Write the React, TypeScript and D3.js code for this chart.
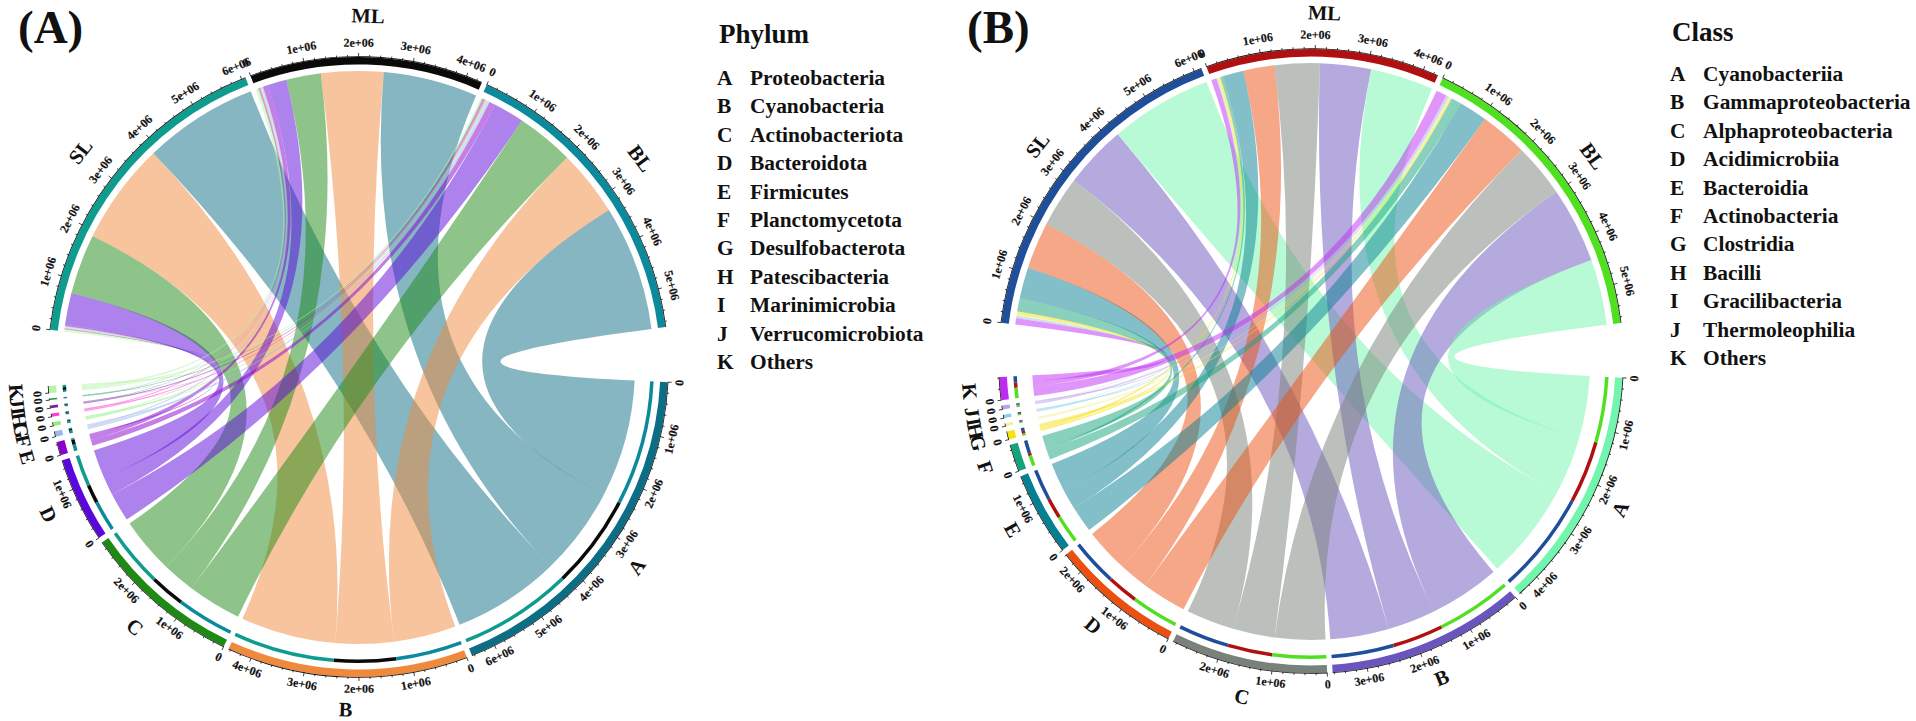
import React from 'react';
import * as d3 from 'd3';

// values are in units of 1e6 reads
const phylumLetters = ['A', 'B', 'C', 'D', 'E', 'F', 'G', 'H', 'I', 'J', 'K'];
const phylumNames = ['Proteobacteria', 'Cyanobacteria', 'Actinobacteriota', 'Bacteroidota', 'Firmicutes', 'Planctomycetota', 'Desulfobacterota', 'Patescibacteria', 'Marinimicrobia', 'Verrucomicrobiota', 'Others'];
const phylumSL = [2.21, 1.96, 1.16, 0.61, 0.03, 0.02, 0.02, 0.01, 0.01, 0.005, 0.04];
const phylumML = [1.82, 1.2, 0.67, 0.36, 0.1, 0.03, 0.02, 0.02, 0.015, 0.01, 0.055];
const phylumBL = [2.42, 1.28, 1.11, 0.59, 0.12, 0.05, 0.03, 0.03, 0.025, 0.015, 0.035];
const phylumColors = ['#0b6e85', '#ef8a3c', '#1e8a14', '#5b06dc', '#8a00d0', '#9db6ee', '#8cf07a', '#ff3acd', '#7a1fa8', '#1e9a55', '#b7f4a8'];
const phylumSourceColors = ['#0e9c8e', '#0a0a0a', '#0b8a9c'];

const classLetters = ['A', 'B', 'C', 'D', 'E', 'F', 'G', 'H', 'I', 'J', 'K'];
const classNames = ['Cyanobacteriia', 'Gammaproteobacteria', 'Alphaproteobacteria', 'Acidimicrobiia', 'Bacteroidia', 'Actinobacteria', 'Clostridia', 'Bacilli', 'Gracilibacteria', 'Thermoleophilia', 'Others'];
const classSL = [1.96, 1.2, 0.98, 0.9, 0.6, 0.25, 0.06, 0.02, 0.03, 0.02, 0.12];
const classML = [1.21, 0.98, 0.86, 0.6, 0.4, 0.05, 0.05, 0.01, 0.01, 0.01, 0.1];
const classBL = [1.26, 1.45, 1.03, 0.91, 0.54, 0.2, 0.04, 0.02, 0.02, 0.04, 0.2];
const classColors = ['#72f5ac', '#6a55be', '#7a817a', '#ec5010', '#057f92', '#14a37a', '#f5e210', '#f3f08a', '#85d0e8', '#b9a0ec', '#bf2bf3'];
const classSourceColors = ['#1f4e9a', '#b01010', '#4fe020'];

const sourceNames = ['SL', 'ML', 'BL'];
const rad = Math.PI / 180;
const serif = '"Liberation Serif", serif';

type PanelProps = {
  cx: number;
  cy: number;
  r: number;
  startDeg: number;
  endDeg: number;
  bigGap: number;
  labelSource: number;
  labelTarget: number;
  letters: string[];
  rows: number[][];
  colors: string[];
  sourceColors: string[];
};

type Sector = { name: string; size: number; color: string; a0: number; a1: number; isSource: boolean };

function facing(deg: number) {
  const d = ((deg % 360) + 360) % 360;
  return d > 90 && d < 270 ? deg + 180 : deg;
}

function Panel({ cx, cy, r, startDeg, endDeg, bigGap, labelSource, labelTarget, letters, rows, colors, sourceColors }: PanelProps) {
  const smallGap = 1;
  const colTotals = letters.map((_, j) => d3.sum(rows, row => row[j]));
  const rowTotals = rows.map(row => d3.sum(row));
  const total = d3.sum(colTotals) + d3.sum(rowTotals);
  const nGaps = letters.length + rows.length - 2;
  const perUnit = (endDeg - startDeg - bigGap - nGaps * smallGap) / total;

  const sectors: Sector[] = [];
  let pos = startDeg;
  letters.forEach((name, j) => {
    const a0 = pos;
    const a1 = a0 + colTotals[j] * perUnit;
    sectors.push({ name, size: colTotals[j], color: colors[j], a0, a1, isSource: false });
    pos = a1 + (j === letters.length - 1 ? bigGap : smallGap);
  });
  sourceNames.forEach((name, i) => {
    const a0 = pos;
    const a1 = a0 + rowTotals[i] * perUnit;
    sectors.push({ name, size: rowTotals[i], color: sourceColors[i], a0, a1, isSource: true });
    pos = a1 + smallGap;
  });

  const rOuterIn = r - 7.5;
  const rInner0 = r - 17.5;
  const rInner1 = r - 14;
  const rLinkSource = r - 14;
  const rLinkTarget = r - 33;
  const arc = d3.arc<any>();
  const ribbon = d3.ribbon<any, any>();

  // source sectors stack K..A clockwise, target sectors stack BL, ML, SL clockwise
  const links: { d: string; color: string }[] = [];
  const innerBars: { d: string; color: string }[] = [];
  const srcPos = sectors.filter(s => s.isSource).map(s => s.a0);
  const tgtPos = sectors.filter(s => !s.isSource).map(s => s.a0);
  const linkDefs: { i: number; j: number; src: number; tgt: number }[] = [];
  rows.forEach((row, i) => {
    for (let j = letters.length - 1; j >= 0; j--) {
      linkDefs.push({ i, j, src: srcPos[i], tgt: 0 });
      srcPos[i] += row[j] * perUnit;
    }
  });
  letters.forEach((_, j) => {
    for (let i = rows.length - 1; i >= 0; i--) {
      const def = linkDefs.find(l => l.i === i && l.j === j)!;
      def.tgt = tgtPos[j];
      tgtPos[j] += rows[i][j] * perUnit;
    }
  });
  linkDefs.forEach(({ i, j, src, tgt }) => {
    const w = rows[i][j] * perUnit;
    links.push({
      color: colors[j],
      d: ribbon({
        source: { startAngle: src * rad, endAngle: (src + w) * rad, radius: rLinkSource },
        target: { startAngle: tgt * rad, endAngle: (tgt + w) * rad, radius: rLinkTarget },
      }) as unknown as string,
    });
    innerBars.push({
      color: sourceColors[i],
      d: arc({ innerRadius: rInner0, outerRadius: rInner1, startAngle: tgt * rad, endAngle: (tgt + w) * rad }) as string,
    });
  });

  return (
    <g transform={`translate(${cx},${cy})`}>
      <g>
        {links.map((l, k) => <path key={k} d={l.d} fill={l.color} fillOpacity={0.5} />)}
      </g>
      {innerBars.map((b, k) => <path key={k} d={b.d} fill={b.color} />)}
      {sectors.map(s => {
        const scale = d3.scaleLinear().domain([0, s.size]).range([s.a0, s.a1]);
        const ticks = d3.range(0, Math.floor(s.size * 5 + 1e-6) + 1).map(k => k / 5);
        const mid = (s.a0 + s.a1) / 2;
        const rLabel = r + (s.isSource ? labelSource : labelTarget);
        const lx = rLabel * Math.sin(mid * rad);
        const ly = -rLabel * Math.cos(mid * rad);
        return (
          <g key={s.name}>
            <path
              d={arc({ innerRadius: rOuterIn, outerRadius: r, startAngle: s.a0 * rad, endAngle: s.a1 * rad }) as string}
              fill={s.color}
            />
            <path
              d={arc({ innerRadius: r, outerRadius: r + 0.8, startAngle: s.a0 * rad, endAngle: s.a1 * rad }) as string}
              fill="#111"
            />
            {ticks.map(v => {
              const deg = scale(v);
              const major = Math.abs(v - Math.round(v)) < 1e-6;
              const sin = Math.sin(deg * rad);
              const cos = Math.cos(deg * rad);
              const len = major ? 4 : 2.2;
              const rt = r + 13;
              return (
                <g key={v}>
                  <line x1={r * sin} y1={-r * cos} x2={(r + len) * sin} y2={-(r + len) * cos} stroke="#111" strokeWidth={0.8} />
                  {major && (
                    <text
                      transform={`translate(${rt * sin},${-rt * cos}) rotate(${facing(deg)})`}
                      textAnchor="middle"
                      dominantBaseline="middle"
                      fontFamily={serif}
                      fontWeight="bold"
                      fontSize={12}
                      fill="#111"
                      stroke="#111"
                      strokeWidth={0.15}
                    >
                      {Math.round(v) === 0 ? '0' : `${Math.round(v)}e+06`}
                    </text>
                  )}
                </g>
              );
            })}
            <text
              transform={`translate(${lx},${ly}) rotate(${facing(mid)})`}
              textAnchor="middle"
              dominantBaseline="middle"
              fontFamily={serif}
              fontWeight="bold"
              fontSize={20.5}
              fill="#111"
            >
              {s.name}
            </text>
          </g>
        );
      })}
    </g>
  );
}

function Legend({ title, x, titleY, firstY, letters, names }: { title: string; x: number; titleY: number; firstY: number; letters: string[]; names: string[] }) {
  return (
    <g fontFamily={serif} fontWeight="bold" fill="#111">
      <text x={x + 2} y={titleY} fontSize={27}>{title}</text>
      {letters.map((letter, i) => (
        <g key={letter}>
          <text x={x} y={firstY + i * 28.4} fontSize={21.4}>{letter}</text>
          <text x={x + 33} y={firstY + i * 28.4} fontSize={21.4}>{names[i]}</text>
        </g>
      ))}
    </g>
  );
}

export default function App() {
  return (
    <svg width={1916} height={721} style={{ position: 'absolute', left: 0, top: 0, background: '#fff' }}>
      <text x={18} y={43} fontFamily={serif} fontWeight="bold" fontSize={47} fill="#111">(A)</text>
      <text x={967} y={43} fontFamily={serif} fontWeight="bold" fontSize={47} fill="#111">(B)</text>
      <Panel
        cx={358}
        cy={367}
        r={310}
        startDeg={92.8}
        endDeg={442.6}
        bigGap={10.4}
        labelSource={39}
        labelTarget={35}
        letters={phylumLetters}
        rows={[phylumSL, phylumML, phylumBL]}
        colors={phylumColors}
        sourceColors={phylumSourceColors}
      />
      <Panel
        cx={1311}
        cy={361}
        r={312}
        startDeg={93.1}
        endDeg={443}
        bigGap={10}
        labelSource={34}
        labelTarget={33}
        letters={classLetters}
        rows={[classSL, classML, classBL]}
        colors={classColors}
        sourceColors={classSourceColors}
      />
      <Legend title="Phylum" x={717} titleY={43} firstY={85} letters={phylumLetters} names={phylumNames} />
      <Legend title="Class" x={1670} titleY={41} firstY={81} letters={classLetters} names={classNames} />
    </svg>
  );
}
